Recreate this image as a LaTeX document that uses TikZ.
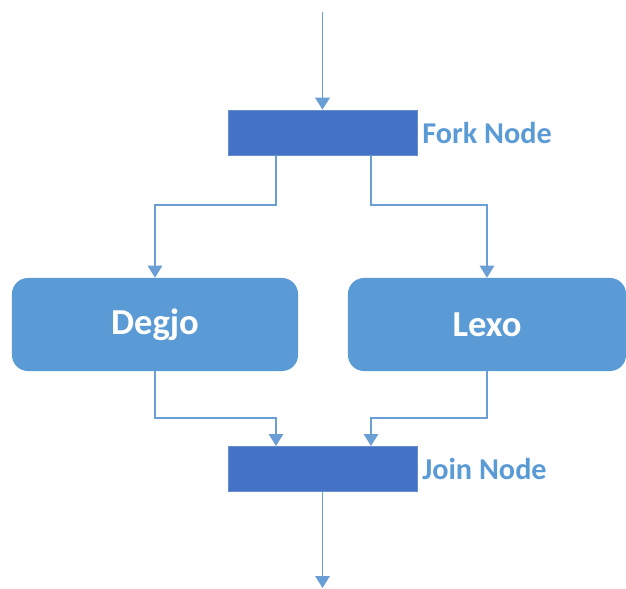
\documentclass[tikz,border=0pt]{standalone}
\usepackage{fontspec}
\setmainfont{Carlito}
\usepackage{xcolor}
\usepackage{tikz}
\usetikzlibrary{arrows.meta,positioning,calc}

\definecolor{barblue}{HTML}{4472C4}
\definecolor{boxblue}{HTML}{5B9BD5}
\definecolor{lineblue}{HTML}{6A9FD6}

\begin{document}
\begin{tikzpicture}[
    x=0.025cm, y=-0.025cm,
    bar/.style={rectangle, draw=barblue!80!white, fill=barblue, minimum width=4.725cm, minimum height=1.125cm, inner sep=0pt},
    act/.style={rectangle, draw=none, fill=boxblue, rounded corners=0.4cm, minimum height=2.325cm, inner sep=0pt, text=white, font=\bfseries\fontsize{26}{30}\selectfont},
    lbl/.style={anchor=west, inner sep=0pt, text=boxblue, font=\bfseries\fontsize{21.5}{25}\selectfont},
    arr/.style={-{Triangle[width=0.36cm, length=0.3cm]}, draw=lineblue, line width=1.4pt}
]
    \useasboundingbox (0,0) rectangle (626,588);

    \node [bar] (fork) at (322.5,132.5) {};
    \node [bar] (join) at (322.5,468.5) {};
    \node [act, minimum width=7.15cm] (degjo) at (155,324.5) {Degjo};
    \node [act, minimum width=6.95cm] (lexo) at (487,324.5) {Lexo};

    \node [lbl] (forklbl) at (422,132.5) {Fork Node};
    \node [lbl] (joinlbl) at (422,468.5) {Join Node};

    \coordinate (start) at (322.5,12);
    \coordinate (end) at (322.5,588);
    \coordinate (fl) at (276,155);
    \coordinate (fr) at (371,155);
    \coordinate (jl) at (276,446);
    \coordinate (jr) at (371,446);

    \draw [arr] (start) -- (fork.north);
    \draw [arr] (fl) -- ++(0,50) -| (degjo.north);
    \draw [arr] (fr) -- ++(0,50) -| (lexo.north);
    \draw [arr] (degjo.south) -- ++(0,47) -| (jl);
    \draw [arr] (lexo.south) -- ++(0,47) -| (jr);
    \draw [arr] (join.south) -- (end);
\end{tikzpicture}
\end{document}
